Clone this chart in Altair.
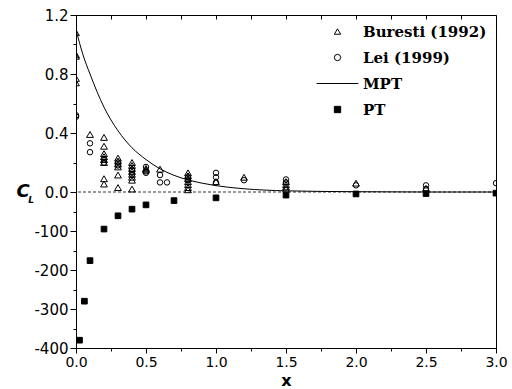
import altair as alt
import pandas as pd

# ---- data ----
buresti_x = [0, 0, 0, 0, 0, 0.1, 0.2, 0.2, 0.2, 0.2, 0.2, 0.2, 0.2, 0.2,
             0.3, 0.3, 0.3, 0.3, 0.3, 0.3, 0.4, 0.4, 0.4, 0.4, 0.4, 0.4, 0.4, 0.4,
             0.5, 0.5, 0.6, 0.8, 0.8, 0.8, 0.8, 0.8, 0.8, 0.8, 1.0, 1.2,
             1.5, 1.5, 1.5, 1.5, 2.0, 2.5]
buresti_y = [1.08, 0.93, 0.92, 0.77, 0.74, 0.39, 0.37, 0.31, 0.26, 0.24, 0.22, 0.20, 0.09, 0.054,
             0.23, 0.21, 0.19, 0.17, 0.115, 0.03, 0.20, 0.18, 0.16, 0.14, 0.12, 0.10, 0.08, 0.02,
             0.16, 0.15, 0.155, 0.13, 0.11, 0.09, 0.07, 0.05, 0.03, 0.015, 0.07, 0.10,
             0.07, 0.05, 0.035, 0.02, 0.06, 0.025]

lei_x = [0, 0, 0.1, 0.1, 0.2, 0.2, 0.3, 0.3, 0.4, 0.4, 0.5, 0.5, 0.5, 0.6, 0.6, 0.65,
         0.8, 0.8, 1.0, 1.0, 1.0, 1.2, 1.5, 1.5, 2.0, 2.5, 2.5, 3.0]
lei_y = [0.52, 0.51, 0.33, 0.27, 0.22, 0.20, 0.20, 0.18, 0.15, 0.12, 0.17, 0.14, 0.13, 0.115, 0.065, 0.065,
         0.10, 0.08, 0.13, 0.10, 0.065, 0.08, 0.085, 0.065, 0.045, 0.045, 0.02, 0.06]

pt_x = [0.025, 0.06, 0.1, 0.2, 0.3, 0.4, 0.5, 0.7, 1.0, 1.5, 2.0, 2.5, 3.0]
pt_y = [-380, -280, -176, -95, -61, -44, -33, -22, -15, -8, -5, -4, -3]

mpt_x = [0, 0.05, 0.1, 0.15, 0.2, 0.3, 0.4, 0.5, 0.6, 0.7, 0.8, 0.9, 1.0, 1.2, 1.5, 2.0, 2.5, 3.0]
mpt_y = [1.10, 0.93, 0.80, 0.68, 0.575, 0.415, 0.30, 0.22, 0.157, 0.113, 0.082, 0.06, 0.043, 0.022,
         0.008, 0.002, 0.0, 0.0]

series_names = ["Buresti (1992)", "Lei (1999)", "MPT", "PT"]

x_ticks = [0, 0.25, 0.5, 0.75, 1.0, 1.25, 1.5, 1.75, 2.0, 2.25, 2.5, 2.75, 3.0]
y_ticks = [-400, -350, -300, -250, -200, -150, -100, -50, 0, 0.2, 0.4, 0.6, 0.8, 1.0, 1.2]
y_major = [-400, -300, -200, -100, 0, 0.4, 0.8, 1.2]

# ---- tables ----
bur = pd.DataFrame({"x": buresti_x, "y": buresti_y, "series": series_names[0]})
lei = pd.DataFrame({"x": lei_x, "y": lei_y, "series": series_names[1]})
ptd = pd.DataFrame({"x": pt_x, "y": pt_y, "series": series_names[3]})
mpt = pd.DataFrame({"x": mpt_x, "y": mpt_y})
zero = pd.DataFrame({"y": [0]})

W, H = 420, 333

xscale = alt.Scale(domain=[0, 3], nice=False, zero=False)
yscale = alt.Scale(domain=[-400, 0, 1.2], range=[H, 177, 0], nice=False, zero=False)

yaxis = alt.Axis(
    values=y_ticks,
    labelExpr=f"indexof({y_major}, datum.value) >= 0 ? (datum.value >= 0 ? format(datum.value, '.1f') : '' + datum.value) : ''",
    tickSize={"condition": {"test": f"indexof({y_major}, datum.value) < 0", "value": 3}, "value": 6},
    labelPadding=2, title=None, grid=False, labelFlush=False,
)
xaxis_bottom = alt.Axis(
    values=x_ticks,
    labelExpr="datum.value % 0.5 == 0 ? format(datum.value, '.1f') : ''",
    tickSize={"condition": {"test": "datum.value % 0.5 != 0", "value": 3}, "value": 5},
    labelPadding=2, labelFontSize=14, labelFlush=False,
    title="x", titleFont="DejaVu Sans", titleFontSize=16,
    titleFontWeight="bold", titlePadding=3, grid=False,
)
xaxis_top = alt.Axis(
    orient="top", values=x_ticks, labels=False, domain=False, tickSize=4,
    offset=-4, title=None, grid=False,
)

legend = alt.Legend(
    orient="none", legendX=254, legendY=9, title=None,
    labelFont="DejaVu Serif", labelFontSize=15, labelFontWeight="bold", labelColor="black",
    symbolSize=40, symbolStrokeColor="black", symbolStrokeWidth=1, symbolOpacity=1,
    labelOffset=18, rowPadding=10, padding=0,
)

shape_enc = alt.Shape("series:N", scale=alt.Scale(domain=series_names,
                      range=["triangle-up", "circle", "M-6.6,0L6.6,0", "square"]), legend=legend)
fill_enc = alt.Fill("series:N", scale=alt.Scale(domain=series_names,
                    range=["transparent", "transparent", "transparent", "black"]), legend=legend)
stroke_enc = alt.Stroke("series:N", scale=alt.Scale(domain=series_names,
                        range=["black", "black", "black", "black"]), legend=legend)

zero_rule = alt.Chart(zero).mark_rule(color="black", strokeDash=[3, 2], strokeWidth=0.8).encode(
    y=alt.Y("y:Q", scale=yscale, axis=yaxis)
)

mpt_line = alt.Chart(mpt).mark_line(color="black", strokeWidth=1, interpolate="monotone", clip=True).encode(
    x=alt.X("x:Q", scale=xscale, axis=xaxis_bottom),
    y=alt.Y("y:Q", scale=yscale, axis=yaxis),
)


def pts(df, size, axis):
    return alt.Chart(df).mark_point(filled=False, strokeWidth=1, opacity=1,
                                    size=size, clip=True).encode(
        x=alt.X("x:Q", scale=xscale, axis=axis),
        y=alt.Y("y:Q", scale=yscale, axis=yaxis),
        shape=shape_enc,
        fill=fill_enc,
        stroke=stroke_enc,
    )


bur_pts = pts(bur, 46, xaxis_top)
lei_pts = pts(lei, 30, None)
pt_pts = pts(ptd, 32, None)

ylab_c = alt.Chart(pd.DataFrame({"t": ["C"]})).mark_text(
    font="DejaVu Sans", fontSize=18, fontWeight="bold", fontStyle="italic",
    align="center", baseline="alphabetic", color="black"
).encode(x=alt.value(-53), y=alt.value(182), text="t:N")
ylab_l = alt.Chart(pd.DataFrame({"t": ["L"]})).mark_text(
    font="DejaVu Sans", fontSize=9, fontWeight="bold", fontStyle="italic",
    align="center", baseline="alphabetic", color="black"
).encode(x=alt.value(-45), y=alt.value(188), text="t:N")

chart = alt.layer(zero_rule, mpt_line, bur_pts, lei_pts, pt_pts, ylab_c, ylab_l).resolve_axis(
    x="independent"
).properties(
    width=W, height=H,
    autosize=alt.AutoSizeParams(type="none"),
    padding={"left": 76, "top": 15, "right": 16, "bottom": 41},
    background="white",
).configure_view(
    stroke="black", strokeWidth=1
).configure_axis(
    labelFont="DejaVu Sans", labelFontSize=15, labelColor="black",
    domainColor="black", tickColor="black", domainWidth=1, tickWidth=1,
)

chart.save("out.html", embed_options={"renderer": "svg", "actions": False})
